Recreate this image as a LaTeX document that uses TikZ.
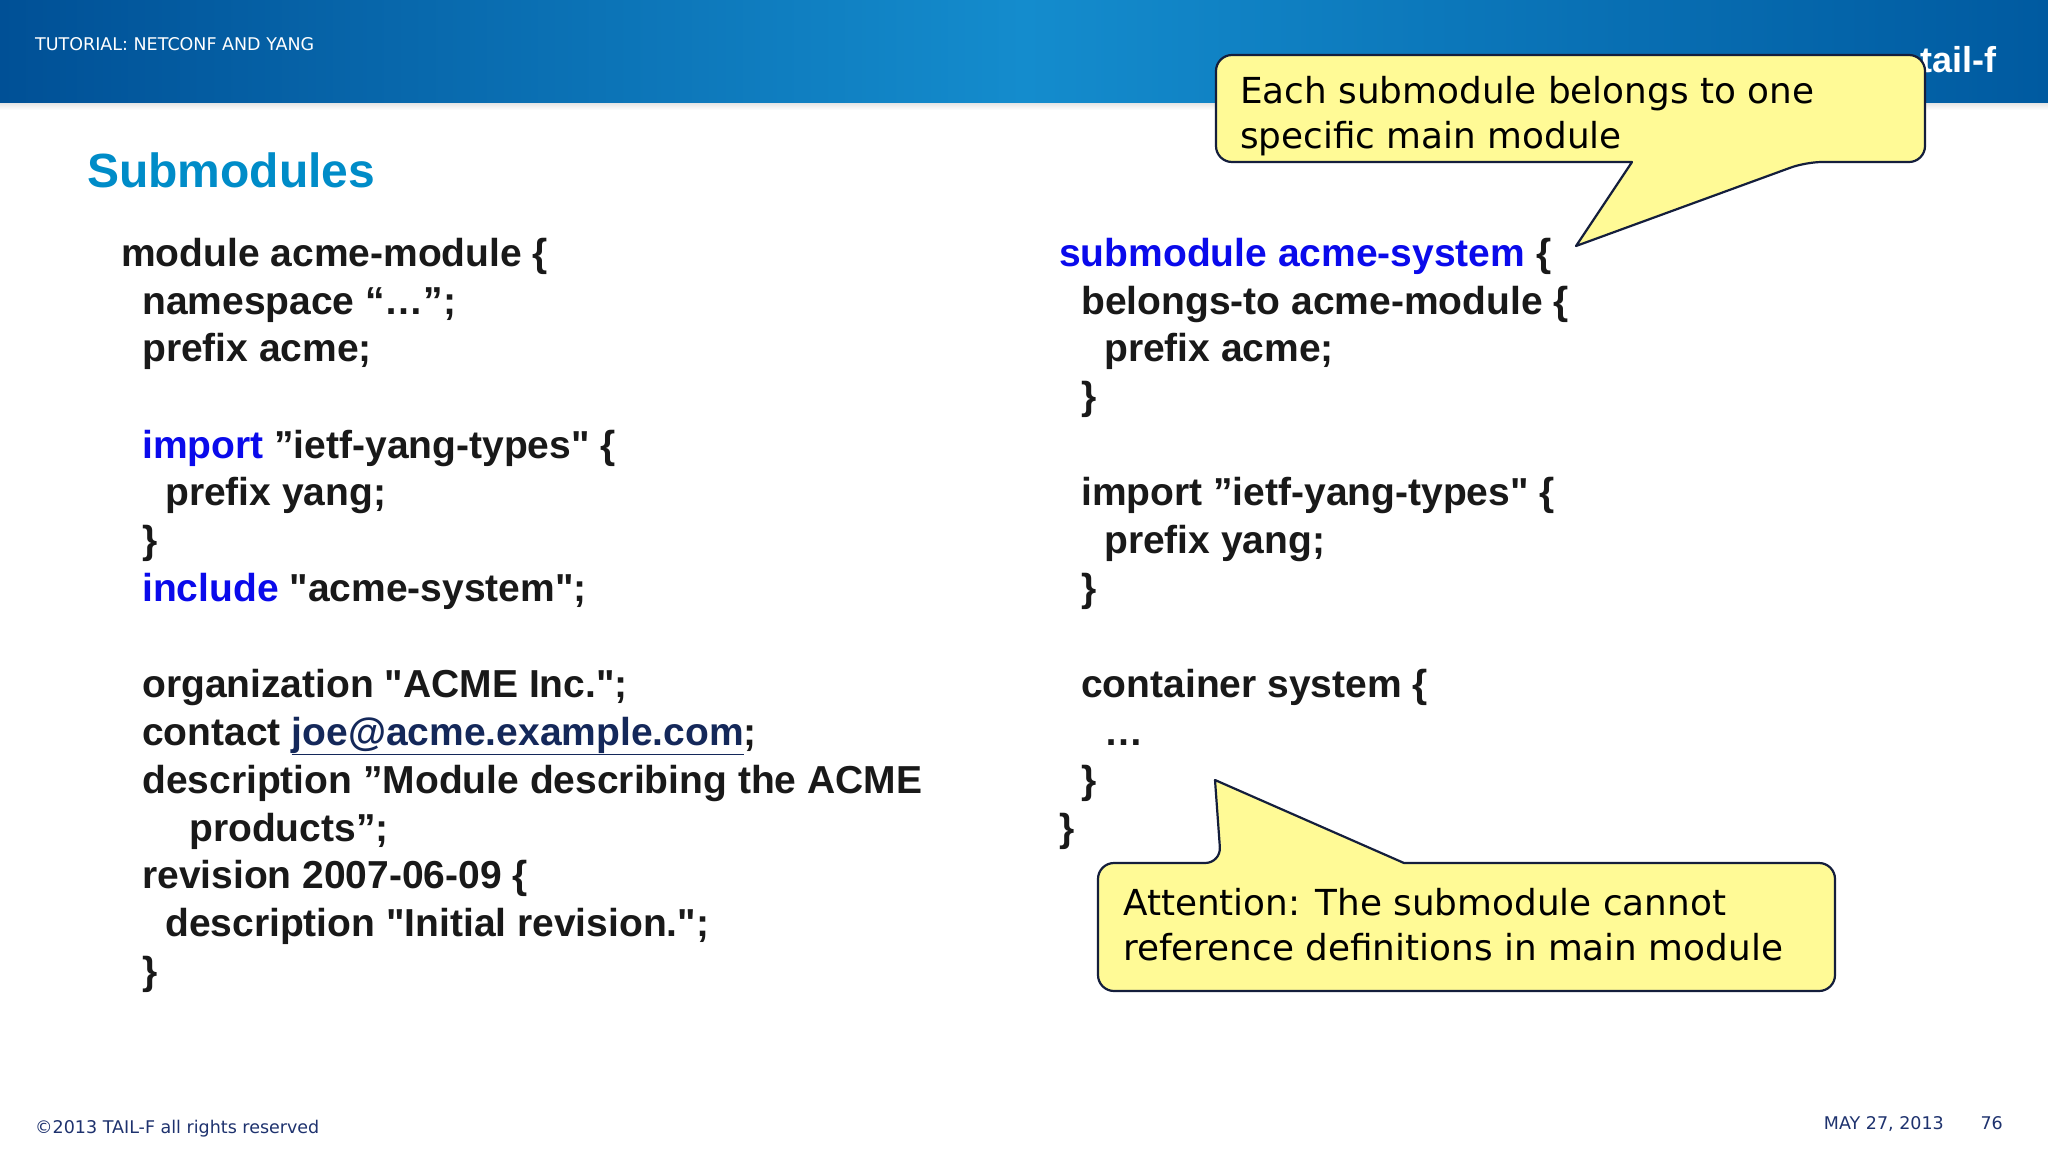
\documentclass[tikz,border=0pt]{standalone}
\usepackage{fontspec}
\setmainfont{Liberation Sans}[Ligatures=TeXOff]
\newfontfamily\verd{DejaVu Sans}
\usetikzlibrary{shadings}
\definecolor{kw}{RGB}{10,10,235}
\definecolor{txt}{RGB}{25,25,25}
\definecolor{ttl}{RGB}{0,140,200}
\definecolor{calfill}{RGB}{255,250,150}
\definecolor{calline}{RGB}{20,30,60}
\definecolor{foot}{RGB}{30,50,110}
\definecolor{link}{RGB}{20,40,90}
\tikzset{
 code/.style={anchor=base west,inner sep=0,text=txt,font=\bfseries\fontsize{39}{44}\selectfont},
 caltext/.style={anchor=base west,inner sep=0,text=black,font=\verd\fontsize{35.8}{41}\selectfont},
 callout/.style={fill=calfill,draw=calline,line width=2.2pt,line join=round},
 small/.style={anchor=base west,inner sep=0,font=\verd\fontsize{17.5}{20}\selectfont}
}
\begin{document}
\begin{tikzpicture}[x=1pt,y=-1pt]
\useasboundingbox (0,0) rectangle (2048,1152);
\fill[white] (0,0) rectangle (2048,1152);
% header
\fill[top color=black!15,bottom color=white] (0,100) rectangle (2048,110);
\shade[left color={rgb,255:red,0;green,80;blue,150},right color={rgb,255:red,0;green,90;blue,160},middle color={rgb,255:red,20;green,140;blue,205}] (0,0) rectangle (2048,102);
\node[small,text=white] (hdr) at (35,50) {TUTORIAL: NETCONF AND YANG};
\node[anchor=base west,inner sep=0,text=white,font=\bfseries\fontsize{36}{40}\selectfont] (logo) at (1920,72) {tail-f};
% title
\node[anchor=base west,inner sep=0,text=ttl,font=\bfseries\fontsize{48}{56}\selectfont] (title) at (87,187) {Submodules};
% left code
\def\la{121}\def\lb{142}\def\lc{165}\def\ld{189}
\node[code] (l1) at (\la,266) {module acme-module \{};
\node[code] (l2) at (\lb,314) {namespace “…”;};
\node[code] (l3) at (\lb,361) {prefix acme;};
\node[code] (l4) at (\lb,458) {\textcolor{kw}{import} ”ietf-yang-types" \{};
\node[code] (l5) at (\lc,505) {prefix yang;};
\node[code] (l6) at (\lb,553) {\}};
\node[code] (l7) at (\lb,601) {\textcolor{kw}{include} "acme-system";};
\node[code] (l8) at (\lb,697) {organization "ACME Inc.";};
\node[code] (l9) at (\lb,745) {contact \textcolor{link}{\underline{joe@acme.example.com}};};
\node[code] (l10) at (\lb,793) {description ”Module describing the ACME};
\node[code] (l11) at (\ld,841) {products”;};
\node[code] (l12) at (\lb,888) {revision 2007-06-09 \{};
\node[code] (l13) at (\lc,936) {description "Initial revision.";};
\node[code] (l14) at (\lb,984) {\}};
% right code
\def\ra{1059}\def\rb{1081}\def\rc{1104}
\node[code] (r1) at (\ra,266) {\textcolor{kw}{submodule acme-system} \{};
\node[code] (r2) at (\rb,314) {belongs-to acme-module \{};
\node[code] (r3) at (\rc,361) {prefix acme;};
\node[code] (r4) at (\rb,409) {\}};
\node[code] (r5) at (\rb,505) {import ”ietf-yang-types" \{};
\node[code] (r6) at (\rc,553) {prefix yang;};
\node[code] (r7) at (\rb,601) {\}};
\node[code] (r8) at (\rb,697) {container system \{};
\node[code] (r9) at (\rc,745) {…};
\node[code] (r10) at (\rb,793) {\}};
\node[code] (r11) at (\ra,841) {\}};
% callout 1
\coordinate (t1) at (1576,246);
\draw[callout] [rounded corners=16pt] (1632,162) -- (1216,162) -- (1216,55) -- (1925,55) -- (1925,162) -- (1806,162) [sharp corners] -- (t1) -- (1632,162) -- cycle;
\node[caltext] (c1a) at (1240,103) {Each submodule belongs to one};
\node[caltext] (c1b) at (1240,148) {specific main module};
% callout 2
\coordinate (t2) at (1215,780);
\draw[callout] [rounded corners=16pt] (1404,863) -- (1835,863) -- (1835,991) -- (1098,991) -- (1098,863) -- (1221,863) [sharp corners] -- (t2) -- (1404,863) -- cycle;
\node[caltext] (c2a) at (1123,915) {Attention: The submodule cannot};
\node[caltext] (c2b) at (1123,960) {reference definitions in main module};
% footer
\node[small,text=foot] (f1) at (35,1133) {©2013 TAIL-F all rights reserved};
\node[small,text=foot,anchor=base east] (f2) at (1944,1129) {MAY 27, 2013};
\node[small,text=foot,anchor=base east] (f3) at (2003,1129) {76};
\end{tikzpicture}
\end{document}
